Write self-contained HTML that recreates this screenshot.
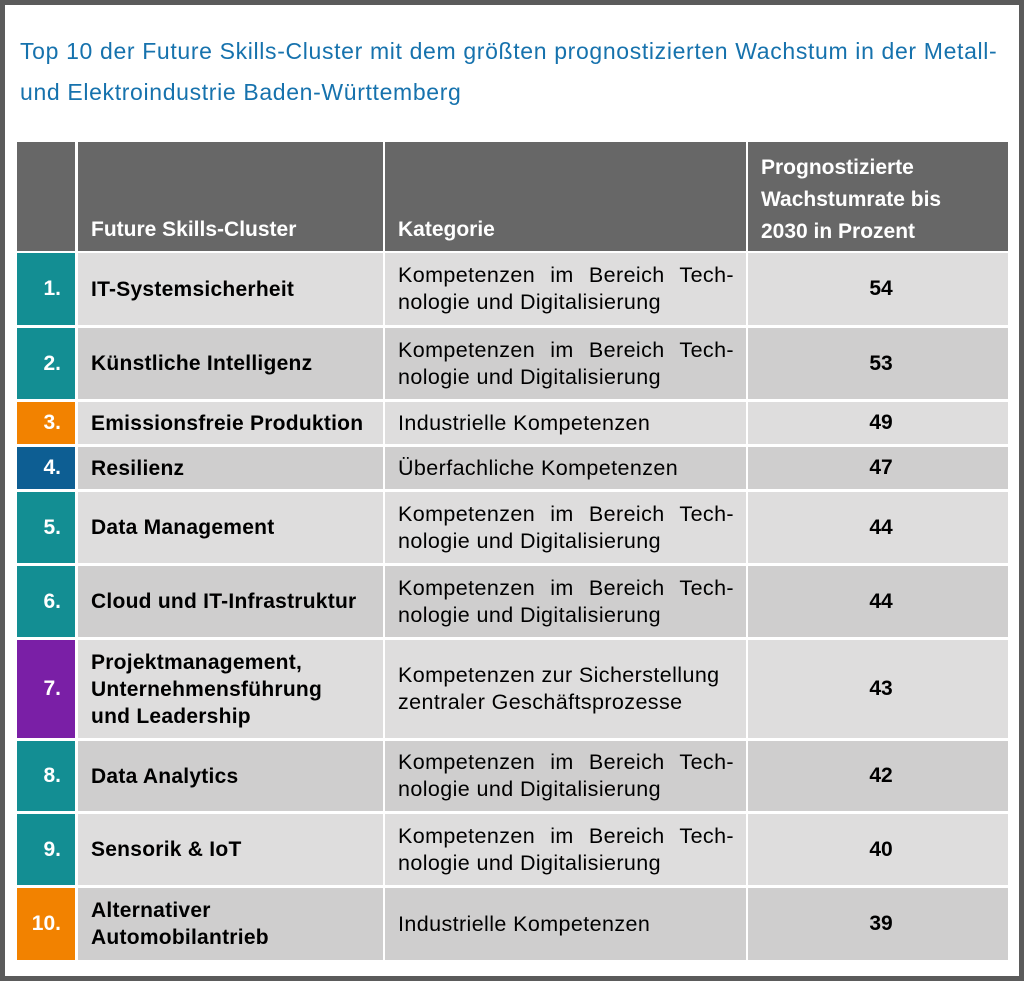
<!DOCTYPE html>
<html><head><meta charset="utf-8"><style>
body{margin:0;width:1024px;height:981px;position:relative;background:#fff;font-family:"Liberation Sans",sans-serif;overflow:hidden}
.frame{position:absolute;left:0;top:0;width:1014px;height:971px;border:5px solid #5b5b5b;background:#fff}
.t{position:absolute;left:20px;color:#1672ad;font-size:23px;letter-spacing:0.65px;white-space:nowrap}
.c{position:absolute;box-sizing:border-box}
.h{background:#676767;color:#fff;font-weight:bold;font-size:21px}
.n{color:#fff;font-weight:bold;font-size:21px;display:flex;align-items:center;justify-content:flex-end;padding-right:14px}
.a{font-weight:bold;font-size:21px;letter-spacing:0.25px;display:flex;align-items:center;padding-left:13px;line-height:27px;white-space:nowrap}
.k{font-size:21.5px;letter-spacing:0.4px;display:flex;align-items:center;padding-left:13px;line-height:27px;white-space:nowrap}
.k div{width:336px}
.j div{text-align:justify;text-align-last:justify;white-space:normal}
.j div span{display:block;text-align-last:left;white-space:nowrap}
.v{font-weight:bold;font-size:21px;display:flex;align-items:center;justify-content:center;padding-left:6px}
.L{background:#dedddd}.D{background:#cfcece}
</style></head><body>
<div class="frame"></div>
<div class="t" style="top:38px">Top 10 der Future Skills-Cluster mit dem größten prognostizierten Wachstum in der Metall-</div>
<div class="t" style="top:79px">und Elektroindustrie Baden-Württemberg</div>

<div class="c h" style="left:17px;top:142px;width:58px;height:109px"></div>
<div class="c h" style="left:78px;top:142px;width:305px;height:109px;padding:76px 0 0 13px">Future Skills-Cluster</div>
<div class="c h" style="left:385px;top:142px;width:361px;height:109px;padding:76px 0 0 13px">Kategorie</div>
<div class="c h" style="left:748px;top:142px;width:260px;height:109px;padding:10px 0 0 13px;line-height:32px">Prognostizierte<br>Wachstumrate bis<br>2030 in Prozent</div>

<div id="rows"></div>
<script>
var R=[
[253,325,'1.','#138e93','IT-Systemsicherheit',1,'54'],
[328,399,'2.','#138e93','Künstliche Intelligenz',1,'53'],
[402,444,'3.','#f28200','Emissionsfreie Produktion','Industrielle Kompetenzen','49'],
[447,489,'4.','#0d5e93','Resilienz','Überfachliche Kompetenzen','47'],
[492,563,'5.','#138e93','Data Management',1,'44'],
[566,637,'6.','#138e93','Cloud und IT-Infrastruktur',1,'44'],
[640,738,'7.','#7a1fa6','Projektmanagement,<br>Unternehmensführung<br>und Leadership','Kompetenzen zur Sicherstellung<br>zentraler Geschäftsprozesse','43'],
[741,811,'8.','#138e93','Data Analytics',1,'42'],
[814,885,'9.','#138e93','Sensorik &amp; IoT',1,'40'],
[888,960,'10.','#f28200','Alternativer<br>Automobilantrieb','Industrielle Kompetenzen','39']];
var h='';
R.forEach(function(r,i){
var y=r[0],hh=r[1]-r[0],cl=i%2?'D':'L';
h+='<div class="c n" style="left:17px;top:'+y+'px;width:58px;height:'+hh+'px;background:'+r[3]+'">'+r[2]+'</div>';
h+='<div class="c a '+cl+'" style="left:78px;top:'+y+'px;width:305px;height:'+hh+'px"><div>'+r[4]+'</div></div>';
var k=r[5]===1?'<div>Kompetenzen im Bereich Tech- <span>nologie und Digitalisierung</span></div>':'<div>'+r[5]+'</div>';
h+='<div class="c k '+(r[5]===1?'j ':'')+cl+'" style="left:385px;top:'+y+'px;width:361px;height:'+hh+'px">'+k+'</div>';
h+='<div class="c v '+cl+'" style="left:748px;top:'+y+'px;width:260px;height:'+hh+'px">'+r[6]+'</div>';
});
document.getElementById('rows').innerHTML=h;
</script>
</body></html>
